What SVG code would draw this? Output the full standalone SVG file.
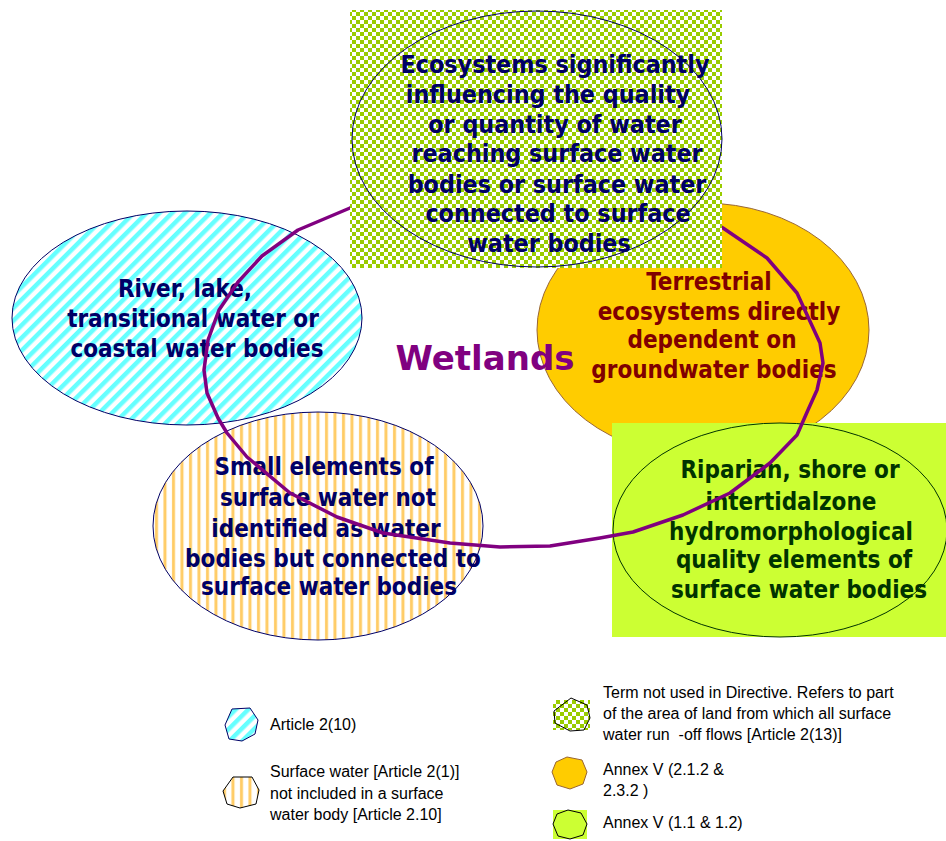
<svg xmlns="http://www.w3.org/2000/svg" width="946" height="841" viewBox="0 0 946 841">
<defs>
<pattern id="chk" width="8" height="8" patternUnits="userSpaceOnUse">
<rect width="8" height="8" fill="#ffffff"/>
<rect width="4" height="4" fill="#99cc00"/>
<rect x="4" y="4" width="4" height="4" fill="#99cc00"/>
</pattern>
<pattern id="diag" width="9" height="9" patternUnits="userSpaceOnUse" patternTransform="rotate(45)">
<rect width="9" height="9" fill="#ffffff"/>
<rect width="4.5" height="9" fill="#66ffff"/>
</pattern>
<pattern id="vert" width="8.5" height="10" patternUnits="userSpaceOnUse">
<rect width="8.5" height="10" fill="#ffffff"/>
<rect x="2" width="3" height="10" fill="#ffcc66"/>
</pattern>
<style>
.nt{font-family:"DejaVu Sans Condensed","DejaVu Sans",sans-serif;font-weight:bold;font-size:24px;text-anchor:middle}
.big{font-size:24.8px}
.lg{font-family:"Liberation Sans",Arial,sans-serif;font-size:16px;fill:#000000}
</style>
</defs>
<rect width="946" height="841" fill="#ffffff"/>

<g id="n-river">
<ellipse cx="187" cy="318" rx="175" ry="107" fill="url(#diag)" stroke="#000066" stroke-width="1"/>
<text class="nt" fill="#000066"><tspan x="185" y="297">River, lake,</tspan><tspan x="193" y="327">transitional water or</tspan><tspan x="197" y="357">coastal water bodies</tspan></text>
</g>

<g id="n-small">
<ellipse cx="318" cy="526" rx="165" ry="114" fill="url(#vert)" stroke="#000066" stroke-width="1"/>
<text class="nt" fill="#000066"><tspan x="324" y="475">Small elements of</tspan><tspan x="328" y="506">surface water not</tspan><tspan x="326" y="537">identified as water</tspan><tspan x="333" y="567">bodies but connected to</tspan><tspan x="329" y="595">surface water bodies</tspan></text>
</g>

<g id="n-terrestrial">
<ellipse cx="703" cy="330" rx="166" ry="127" fill="#ffcc00" stroke="#996633" stroke-width="1"/>
<text class="nt" fill="#800000"><tspan x="709" y="290">Terrestrial</tspan><tspan x="719" y="320">ecosystems directly</tspan><tspan x="712" y="348">dependent on</tspan><tspan x="714" y="378">groundwater bodies</tspan></text>
</g>

<g id="n-riparian">
<rect x="612" y="423" width="334" height="214" fill="#ccff33"/>
<ellipse cx="780" cy="530" rx="167" ry="107" fill="none" stroke="#003300" stroke-width="1"/>
<text class="nt" fill="#003300"><tspan x="790" y="478">Riparian, shore or</tspan><tspan x="791" y="510">intertidalzone</tspan><tspan x="791" y="540">hydromorphological</tspan><tspan x="794" y="568">quality elements of</tspan><tspan x="799" y="598">surface water bodies</tspan></text>
</g>

<g id="connectors">
<path id="wetland-loop" d="M350,208 L298,230 L262,256 L238,282 L219,310 L208,340 L204,370 L207,393 L218,418 L227,433 L247,457 L290,493 L337,517 L383,533 L450,543 L500,547 L550,546 L600,538 L633,532 L683,515 L730,493 L770,463 L797,435 L808,410 L817,390 L823,363 L820,343 L797,293 L767,258 L723,228 L700,215 L540,180 L400,190 Z" fill="none" stroke="#800080" stroke-width="3.5" stroke-linejoin="round"/>
</g>

<g id="n-ecosystems">
<rect x="350" y="10" width="372" height="258" fill="url(#chk)"/>
<ellipse cx="537" cy="139" rx="185" ry="128" fill="none" stroke="#000066" stroke-width="1"/>
<text class="nt big" fill="#000066"><tspan x="555" y="73">Ecosystems significantly</tspan><tspan x="548" y="103">influencing the quality</tspan><tspan x="555" y="133">or quantity of water</tspan><tspan x="557" y="162">reaching surface water</tspan><tspan x="557" y="193">bodies or surface water</tspan><tspan x="558" y="222">connected to surface</tspan><tspan x="549" y="252">water bodies</tspan></text>
</g>

<g id="n-wetlands">
<text x="485" y="370" font-family="'DejaVu Sans',sans-serif" font-weight="bold" font-size="34" fill="#800080" text-anchor="middle">Wetlands</text>
</g>

<g id="legend">
<g id="lg-article210">
<polygon points="232,709 250,708 258,720 255,734 242,741 229,739 225,725" fill="url(#diag)" stroke="#000066" stroke-width="1"/>
<text class="lg" x="270" y="730">Article 2(10)</text>
</g>
<g id="lg-surface">
<polygon points="233,777 252,777 259,790 256,804 240,808 227,804 223,791" fill="url(#vert)" stroke="#000000" stroke-width="1"/>
<text class="lg"><tspan x="270" y="777">Surface water [Article 2(1)]</tspan><tspan x="270" y="799">not included in a surface</tspan><tspan x="270" y="820">water body [Article 2.10]</tspan></text>
</g>
<g id="lg-term">
<rect x="553" y="700" width="37" height="30" fill="url(#chk)"/>
<polygon points="571,698 587,705 590,718 584,730 570,731 555,723 554,711" fill="none" stroke="#000000" stroke-width="1"/>
<text class="lg"><tspan x="603" y="698">Term not used in Directive. Refers to part</tspan><tspan x="603" y="719">of the area of land from which all surface</tspan><tspan x="603" y="740">water run&#160; -off flows [Article 2(13)]</tspan></text>
</g>
<g id="lg-annex2">
<polygon points="567,757 582,760 587,772 583,784 570,789 557,785 552,772 556,762" fill="#ffcc00" stroke="#996633" stroke-width="1"/>
<text class="lg"><tspan x="603" y="775">Annex V (2.1.2 &amp;</tspan><tspan x="603" y="796">2.3.2 )</tspan></text>
</g>
<g id="lg-annex1">
<rect x="553" y="810" width="34" height="29" fill="#ccff33"/>
<polygon points="568,810 581,813 587,824 583,835 570,839 558,836 553,824 557,814" fill="none" stroke="#000000" stroke-width="1"/>
<text class="lg" x="603" y="828">Annex V (1.1 &amp; 1.2)</text>
</g>
</g>
</svg>
